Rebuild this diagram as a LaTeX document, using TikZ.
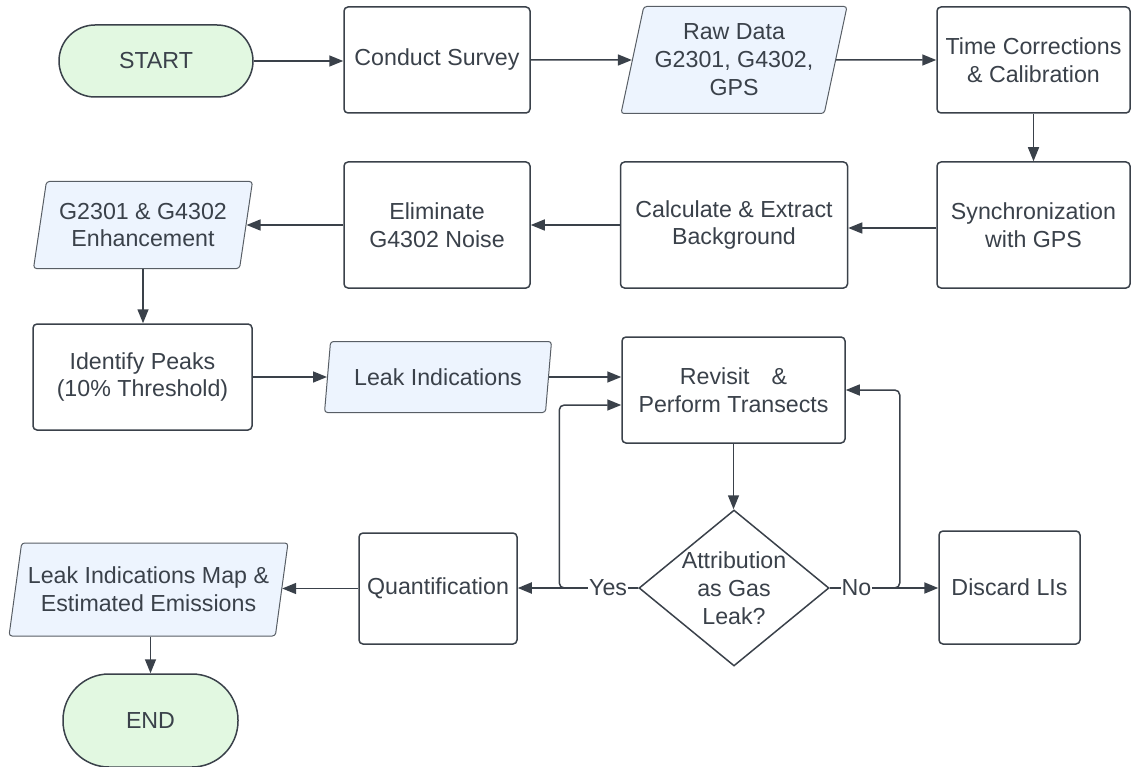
\documentclass[tikz,border=0pt]{standalone}
\usepackage{fontspec}
\setmainfont{Liberation Sans}
\usetikzlibrary{shapes.geometric,arrows.meta,calc}
\definecolor{ink}{HTML}{3A414A}
\definecolor{termfill}{HTML}{E2F8E1}
\definecolor{iofill}{HTML}{EDF4FE}
\begin{document}
\begin{tikzpicture}[x=1pt,y=-1pt,
  every node/.style={font=\fontsize{23.2}{27.9}\selectfont, text=ink},
  proc/.style={draw=ink, line width=1.5pt, rounded corners=4pt, fill=white, align=center, inner sep=0pt},
  term/.style={draw=ink, line width=1.5pt, rounded corners=36pt, fill=termfill, align=center, inner sep=0pt, minimum width=194pt, minimum height=72pt},
  io/.style={trapezium, trapezium stretches body, draw=ink!85, line width=1pt, rounded corners=3pt, fill=iofill, align=center, inner sep=2pt},
  decision/.style={diamond, aspect=1.218, draw=ink, line width=1.5pt, fill=white, align=center, inner sep=-4pt, minimum width=190pt, minimum height=156pt},
  flow/.style={draw=ink, line width=1.5pt, -{Triangle[length=14pt,width=11pt]}},
  lab/.style={fill=white, inner sep=1pt}
]
\useasboundingbox (0,0) rectangle (1131,767);

% nodes
\node[term] (start) at (156,61) {START};
\node[proc, minimum width=186pt, minimum height=106pt] (survey) at (437,60) {Conduct Survey};
\node[io, trapezium left angle=73.3, trapezium right angle=106.7, minimum width=226pt, minimum height=107pt] (raw) at (734,60) {Raw Data\\G2301, G4302,\\GPS};
\node[proc, minimum width=193pt, minimum height=106pt] (tc) at (1033.5,60) {Time Corrections\\\& Calibration};
\node[proc, minimum width=193pt, minimum height=126pt] (sync) at (1033.5,225) {Synchronization\\with GPS};
\node[proc, minimum width=227pt, minimum height=126pt] (calc) at (734,225) {Calculate \& Extract\\Background};
\node[proc, minimum width=186pt, minimum height=126pt] (elim) at (437,225) {Eliminate\\G4302 Noise};
\node[io, trapezium left angle=75, trapezium right angle=105, minimum width=219pt, minimum height=87pt] (enh) at (143,225) {G2301 \& G4302\\Enhancement};
\node[proc, minimum width=219pt, minimum height=106pt] (peaks) at (142.5,377) {Identify Peaks\\(10\% Threshold)};
\node[io, trapezium left angle=74, trapezium right angle=106, minimum width=227pt, minimum height=71pt] (leak) at (438,377) {Leak Indications};
\node[proc, minimum width=223pt, minimum height=106pt] (rev) at (733.5,390) {Revisit\hspace{22pt}\&\\Perform Transects};
\node[decision] (dec) at (734,588) {Attribution\\as Gas\\Leak?};
\node[proc, minimum width=158pt, minimum height=111pt] (quant) at (438,588.5) {Quantification};
\node[proc, minimum width=141pt, minimum height=113pt] (disc) at (1009.5,587.5) {Discard LIs};
\node[io, trapezium left angle=75.5, trapezium right angle=104.5, minimum width=279pt, minimum height=93pt] (map) at (148.5,589.5) {Leak Indications Map \&\\Estimated Emissions};
\node[term, minimum width=175pt, minimum height=93pt, rounded corners=46pt] (end) at (150.5,720.5) {END};

% connectors
\draw[flow] (start.east) -- (start.east -| survey.west);
\draw[flow] (survey) -- (raw);
\draw[flow] (raw) -- (tc);
\draw[flow] (tc) -- (sync);
\draw[flow] ([yshift=-3pt]sync.west) -- ([yshift=-3pt]sync.west -| calc.east);
\draw[flow] (calc.west) -- (calc.west -| elim.east);
\draw[flow] (elim.west) -- (elim.west -| enh.east);
\draw[flow] (enh.south) -- (enh.south |- peaks.north);
\draw[flow] (peaks.east) -- (peaks.east -| leak.west);
\draw[flow] (leak.east) -- (leak.east -| rev.west);
\draw[flow] (rev.south) -- (rev.south |- dec.north);
\draw[flow, rounded corners=5pt] (dec.west) -- ++(-79,0) |- ([yshift=-15pt]rev.west);
\draw[flow, line width=2pt] (dec.west) -- node[lab, pos=0.25] {Yes} (dec.west -| quant.east);
\draw[flow, rounded corners=5pt] (dec.east) -- ++(70,0) |- (rev.east);
\draw[flow, line width=2pt] (dec.east) -- node[lab, pos=0.245] {No} (dec.east -| disc.west);
\draw[flow] (quant.west) -- (quant.west -| map.east);
\draw[flow] (map.south -| end.north) -- (end.north);
\end{tikzpicture}
\end{document}
